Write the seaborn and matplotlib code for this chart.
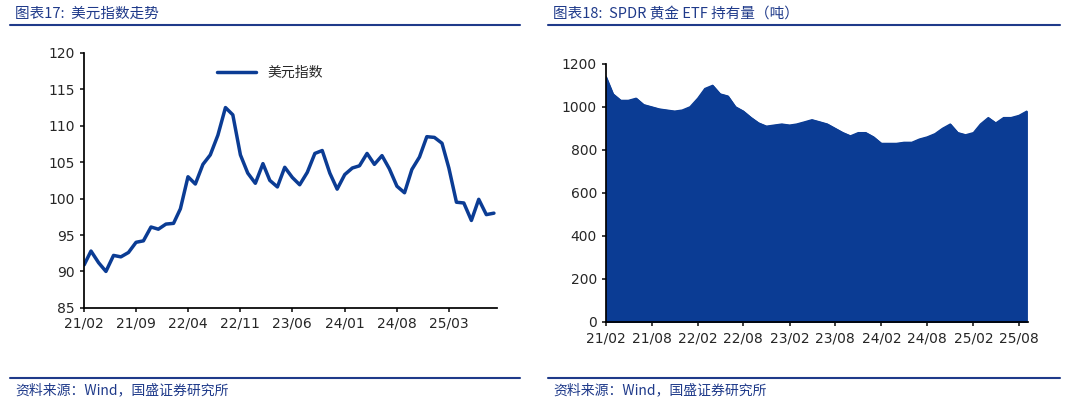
import matplotlib
matplotlib.use("Agg")
import matplotlib.pyplot as plt
import seaborn as sns
import pandas as pd
import numpy as np
from matplotlib.lines import Line2D

sns.set_theme(style="white")
plt.rcParams['font.family'] = ['DejaVu Sans', 'Noto Sans CJK SC']

dxy_months = pd.date_range("2021-02-01", "2025-09-01", freq="MS")
dxy_values = [90.9, 92.8, 91.2, 90.0, 92.2, 92.0, 92.6, 94.0, 94.2, 96.1, 95.8,
              96.5, 96.6, 98.6, 103.0, 102.0, 104.7, 106.0, 108.7, 112.5, 111.5, 106.0, 103.5,
              102.1, 104.8, 102.5, 101.6, 104.3, 102.9, 101.9, 103.6, 106.2, 106.6, 103.5, 101.3,
              103.3, 104.2, 104.5, 106.2, 104.7, 105.9, 104.1, 101.7, 100.8, 104.0, 105.7, 108.5,
              108.4, 107.6, 104.2, 99.5, 99.4, 97.0, 99.9, 97.8, 98.0]

gld_months = pd.date_range("2021-02-01", "2025-09-01", freq="MS")
gld_values = [1140, 1060, 1030, 1030, 1040, 1010, 1000, 990, 985, 980, 985,
              1000, 1040, 1085, 1100, 1060, 1050, 1000, 980, 950, 925, 910, 915,
              920, 915, 920, 930, 940, 930, 920, 900, 880, 865, 880, 880,
              860, 830, 830, 830, 835, 835, 850, 860, 875, 900, 920, 880,
              870, 880, 920, 950, 925, 950, 950, 960, 980]

dxy_ticks = ["21/02", "21/09", "22/04", "22/11", "23/06", "24/01", "24/08", "25/03"]
gld_ticks = ["21/02", "21/08", "22/02", "22/08", "23/02", "23/08", "24/02", "24/08", "25/02", "25/08"]

blue = "#0B3C94"
title_c = "#1F3A8A"
fig = plt.figure(figsize=(10.65, 4.04), dpi=100)

ax1 = fig.add_axes([0.079, 0.238, 0.388, 0.631])
df1 = pd.DataFrame({"date": dxy_months, "v": dxy_values})
sns.lineplot(data=df1, x="date", y="v", ax=ax1, color=blue, lw=2.5, label="美元指数")
ax1.set_ylim(85, 120)
ax1.set_yticks(range(85, 121, 5))
t1 = pd.to_datetime(["20" + s.replace("/", "-") + "-01" for s in dxy_ticks])
ax1.set_xticks(t1)
ax1.set_xticklabels(dxy_ticks)
ax1.set_xlim(pd.Timestamp("2021-02-01"), pd.Timestamp("2025-09-15"))
ax1.set_xlabel(""); ax1.set_ylabel("")
for s in ["top", "right"]:
    ax1.spines[s].set_visible(False)
for s in ["left", "bottom"]:
    ax1.spines[s].set_color("black")
ax1.tick_params(labelsize=10, length=3, direction="out", left=True, bottom=True)
leg = ax1.legend(loc="upper center", bbox_to_anchor=(0.45, 1.0), frameon=False,
                 prop={"family": ["Noto Sans CJK SC"], "size": 10}, handlelength=2.8)

ax2 = fig.add_axes([0.569, 0.203, 0.396, 0.639])
df2 = pd.DataFrame({"date": gld_months, "v": gld_values})
sns.lineplot(data=df2, x="date", y="v", ax=ax2, color=blue, lw=1)
ax2.fill_between(df2["date"], df2["v"], color=blue)
ax2.set_ylim(0, 1200)
ax2.set_yticks(range(0, 1201, 200))
t2 = pd.to_datetime(["20" + s.replace("/", "-") + "-01" for s in gld_ticks])
ax2.set_xticks(t2)
ax2.set_xticklabels(gld_ticks)
ax2.set_xlim(pd.Timestamp("2021-02-01"), pd.Timestamp("2025-09-05"))
ax2.set_xlabel(""); ax2.set_ylabel("")
for s in ["top", "right"]:
    ax2.spines[s].set_visible(False)
for s in ["left", "bottom"]:
    ax2.spines[s].set_color("black")
ax2.tick_params(labelsize=10, length=3, direction="out", left=True, bottom=True)

cjk = ["Noto Sans CJK SC", "DejaVu Sans"]
for x0, x1, title in [(10, 520, "图表17:  美元指数走势"), (548, 1060, "图表18:  SPDR 黄金 ETF 持有量（吨）")]:
    fig.text(x0 / 1065 + 0.005, 1 - 14 / 404, title, color=title_c, fontsize=10.5,
             style="italic", family=cjk, va="center")
    fig.add_artist(Line2D([x0 / 1065, x1 / 1065], [1 - 25 / 404] * 2, color=title_c, lw=1.5))
    fig.add_artist(Line2D([x0 / 1065, x1 / 1065], [1 - 378 / 404] * 2, color=title_c, lw=1.5))
    fig.text(x0 / 1065 + 0.005, 1 - 390 / 404, "资料来源：Wind，国盛证券研究所", color=title_c,
             fontsize=10, style="italic", family=cjk, va="center")

fig.savefig("out.png", dpi=100)
